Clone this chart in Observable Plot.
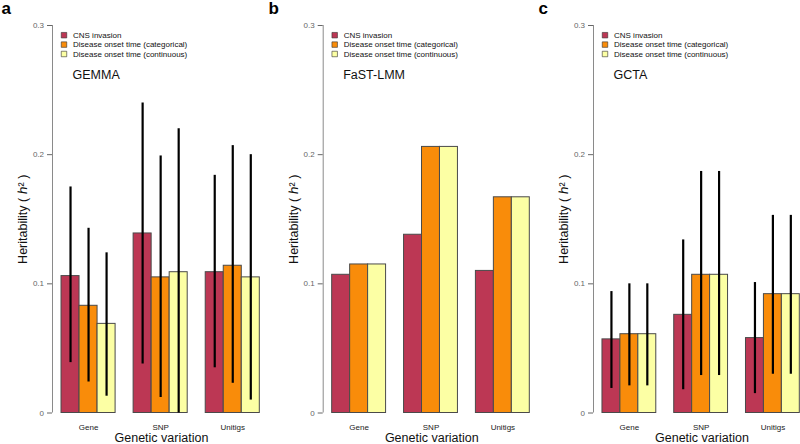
<!DOCTYPE html>
<html>
<head>
<meta charset="utf-8">
<script src="https://cdn.jsdelivr.net/npm/d3@7"></script>
<script src="https://cdn.jsdelivr.net/npm/@observablehq/plot@0.6"></script>
<style>
  html, body { margin: 0; padding: 0; background: #fff; }
  #root { position: relative; width: 800px; height: 444px; overflow: hidden; background: #fff; }
  #root > div { position: absolute; top: 0; }
</style>
</head>
<body>
<div id="root"></div>
<script>
// ---- data ----
const groups = ["Gene", "SNP", "Unitigs"];
const series = ["CNS invasion", "Disease onset time (categorical)", "Disease onset time (continuous)"];
const seriesColors = ["#BC3754", "#F98C0A", "#FCFFA4"];
const yTicks = [0, 0.1, 0.2, 0.3];
const yTickLabels = ["0", "0.1", "0.2", "0.3"];
const panelLetters = ["a", "b", "c"];
const methods = ["GEMMA", "FaST-LMM", "GCTA"];

// values in group-major order: Gene(CNS, cat, cont), SNP(...), Unitigs(...)
const gemmaH2   = [0.106, 0.083, 0.069, 0.139, 0.105, 0.109, 0.109, 0.114, 0.105];
const gemmaLow  = [0.039, 0.024, 0.013, 0.038, 0.012, 0.000, 0.035, 0.023, 0.010];
const gemmaHigh = [0.175, 0.143, 0.124, 0.240, 0.199, 0.220, 0.184, 0.207, 0.200];

const fastlmmH2 = [0.107, 0.115, 0.115, 0.138, 0.206, 0.206, 0.110, 0.167, 0.167];

const gctaH2    = [0.057, 0.061, 0.061, 0.076, 0.107, 0.107, 0.058, 0.092, 0.092];
const gctaLow   = [0.019, 0.021, 0.021, 0.018, 0.029, 0.029, 0.015, 0.030, 0.030];
const gctaHigh  = [0.094, 0.100, 0.100, 0.134, 0.187, 0.187, 0.101, 0.153, 0.153];

const yLabel = "Heritability ( \u210E\u00B2 )";
const xLabel = "Genetic variation";

// ---- layout ----
const panels = [
  {left: 0,   width: 260, ml: 52,   h2: gemmaH2,   low: gemmaLow, high: gemmaHigh},
  {left: 267, width: 263, ml: 55.7, h2: fastlmmH2, low: null,     high: null},
  {left: 537, width: 263, ml: 56,   h2: gctaH2,    low: gctaLow,  high: gctaHigh}
];

const font = "'Liberation Sans', Arial, Helvetica, sans-serif";
const root = document.getElementById("root");

panels.forEach((p, pi) => {
  const rows = groups.flatMap((g, gi) => series.map((s, si) => ({
    group: g, series: s, slot: gi * 4 + si,
    h2: p.h2[gi * 3 + si],
    lo: p.low ? p.low[gi * 3 + si] : null,
    hi: p.high ? p.high[gi * 3 + si] : null
  })));

  const marks = [
    Plot.ruleX([-0.5], {y1: 0, y2: 0.3, stroke: "#8a8a8a", strokeWidth: 1}),
    Plot.rect(rows, {x1: "slot", x2: d => d.slot + 1, y1: 0, y2: "h2", fill: "series", stroke: "#4a4a4a", strokeWidth: 1}),
  ];
  if (p.low) {
    marks.push(Plot.ruleX(rows, {x: d => d.slot + 0.5, y1: "lo", y2: "hi", stroke: "#000", strokeWidth: 2.2}));
  }
  marks.push(
    Plot.axisY({ticks: yTicks, tickFormat: (d) => yTickLabels[yTicks.indexOf(d)], tickSize: 5, tickPadding: 3.5,
                fontSize: 8, color: "#666", label: null}),
    // legend
    ...series.map((s, i) => Plot.dot([s], {frameAnchor: "top-left", dx: 11.5, dy: 9.7 + i * 9.4, symbol: "square",
                                           r: 3.1, fill: d => d, stroke: "#333", strokeWidth: 0.6})),
    ...series.map((s, i) => Plot.text([s], {frameAnchor: "top-left", dx: 20.5, dy: 9.7 + i * 9.4, text: d => d,
                                            textAnchor: "start", lineAnchor: "middle", fontSize: 8, fill: "#111"})),
    Plot.text([methods[pi]], {frameAnchor: "top-left", dx: 20, dy: 49, text: d => d, textAnchor: "start",
                              lineAnchor: "middle", fontSize: 12.5, fill: "#111"}),
    Plot.text([yLabel], {frameAnchor: "left", dx: -29.5, rotate: -90, text: d => d, textAnchor: "middle",
                         lineAnchor: "middle", fontSize: 12.5, fill: "#111"}),
    Plot.text(groups, {x: (d, i) => i * 4 + 1.5, frameAnchor: "bottom", dy: 14.5, text: d => d, textAnchor: "middle",
                       lineAnchor: "middle", fontSize: 8, fill: "#222"}),
    Plot.text([xLabel], {frameAnchor: "bottom", dx: 5.3, dy: 24.8, text: d => d, textAnchor: "middle",
                         lineAnchor: "middle", fontSize: 12.5, fill: "#111"}),
    Plot.text([panelLetters[pi]], {frameAnchor: "top-left", dx: 1 - p.ml, dy: -12, lineAnchor: "bottom", textAnchor: "start",
                                   text: d => d, fontSize: 17, fontWeight: "bold", fill: "#000"})
  );

  const chart = Plot.plot({
    width: p.width,
    height: 444,
    marginLeft: p.ml,
    marginRight: 0.7,
    marginTop: 25,
    marginBottom: 31.5,
    x: {domain: [-0.5, 11], axis: null},
    y: {domain: [0, 0.3], axis: null},
    color: {domain: series, range: seriesColors},
    style: {fontFamily: font, overflow: "visible", background: "transparent"},
    marks
  });
  const holder = document.createElement("div");
  holder.style.left = p.left + "px";
  holder.appendChild(chart);
  root.appendChild(holder);
});
</script>
</body>
</html>
